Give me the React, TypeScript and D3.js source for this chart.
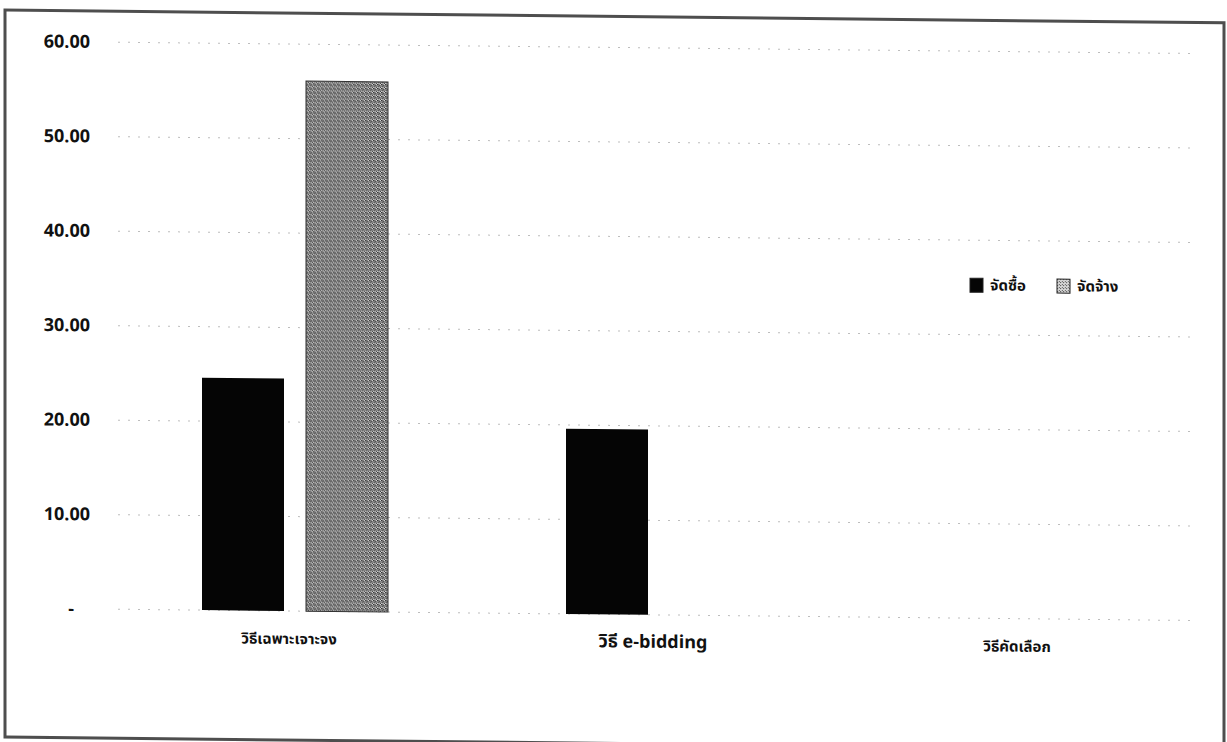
import React from 'react';
import * as d3 from 'd3';

// values
const categories = ['วิธีเฉพาะเจาะจง', 'วิธี e-bidding', 'วิธีคัดเลือก'];
const seriesNames = ['จัดซื้อ', 'จัดจ้าง'];
const purchaseValues = [24.6, 19.6, 0];
const hireValues = [56.1, 0, 0];
const yTicks = [0, 10, 20, 30, 40, 50, 60];

const W = 1227;
const H = 742;
const thaiFont = "Tahoma, 'Noto Sans Thai', 'Noto Sans', 'DejaVu Sans', sans-serif";

const App = () => {
  const x0 = d3.scaleBand().domain(categories).range([113, 1205]);
  const x1 = d3.scaleBand().domain(seriesNames).range([89, 275]).paddingInner(0.2115);
  const y = d3.scaleLinear().domain([0, 60]).range([608, 41]);
  const fmt = d3.format('.2f');

  const rows = categories.map((c, i) => ({ cat: c, values: [purchaseValues[i], hireValues[i]] }));
  const fills = ['#050505', 'url(#dither)'];

  return (
    <svg width={W} height={H} style={{ position: 'absolute', left: 0, top: 0, background: '#fff' }}>
      <defs>
        <pattern id="dither" width="4" height="4" patternUnits="userSpaceOnUse">
          <rect width="4" height="4" fill="#8a8a8a" />
          <rect x="0" y="0" width="1" height="1" fill="#2a2a2a" />
          <rect x="2" y="1" width="1" height="1" fill="#353535" />
          <rect x="1" y="2" width="1" height="1" fill="#404040" />
          <rect x="3" y="3" width="1" height="1" fill="#333" />
          <rect x="1" y="0" width="1" height="1" fill="#5c5c5c" />
          <rect x="3" y="0" width="1" height="1" fill="#dedede" />
          <rect x="0" y="3" width="1" height="1" fill="#d4d4d4" />
          <rect x="2" y="3" width="1" height="1" fill="#c8c8c8" />
        </pattern>
        <pattern id="legendDither" width="3" height="3" patternUnits="userSpaceOnUse">
          <rect width="3" height="3" fill="#d8d8d8" />
          <rect x="0" y="0" width="1" height="1" fill="#444" />
          <rect x="2" y="2" width="1" height="1" fill="#555" />
        </pattern>
      </defs>
      <g transform="skewY(0.6)">
        {/* scanned frame */}
        <rect x={5} y={10} width={1219} height={727} fill="none" stroke="#4e4e4e" strokeWidth={3} />

        {/* grid */}
        {yTicks.map(t => (
          <line key={t} x1={118} x2={1197} y1={y(t)} y2={y(t)}
            stroke="#bdbdbd" strokeWidth={1} strokeDasharray="2 8" />
        ))}

        {/* y labels */}
        {yTicks.map(t => (
          <text key={'l' + t} x={t === 0 ? 74 : 90} y={y(t) + 6} textAnchor="end"
            fontFamily="'Open Sans', sans-serif" fontWeight={700} fontSize={18} fill="#111">
            {t === 0 ? '-' : fmt(t)}
          </text>
        ))}

        {/* bars */}
        {rows.map(r => (
          <g key={r.cat} transform={`translate(${x0(r.cat)},0)`}>
            {r.values.map((v, j) => v > 0 && (
              <rect key={j} x={x1(seriesNames[j])} y={y(v)} width={x1.bandwidth()}
                height={y(0) - y(v)} fill={fills[j]}
                stroke={j === 1 ? '#333' : 'none'} strokeWidth={1} />
            ))}
          </g>
        ))}

        {/* category labels */}
        {categories.map(c => (
          <text key={c} x={(x0(c) as number) + x0.bandwidth() / 2 - 6} y={641} textAnchor="middle"
            fontFamily={thaiFont} fontWeight="bold" fontSize={/[a-z]/.test(c) ? 18 : 15} fill="#111">
            {c}
          </text>
        ))}

        {/* legend */}
        {seriesNames.map((s, i) => (
          <g key={s} transform={`translate(${970 + i * 87},268)`}>
            <rect x={0} y={0} width={13} height={14} fill={i === 0 ? fills[0] : 'url(#legendDither)'}
              stroke="#222" strokeWidth={1} />
            <text x={20} y={12} fontFamily={thaiFont} fontWeight="bold" fontSize={15} fill="#111">{s}</text>
          </g>
        ))}
      </g>
    </svg>
  );
};

export default App;
